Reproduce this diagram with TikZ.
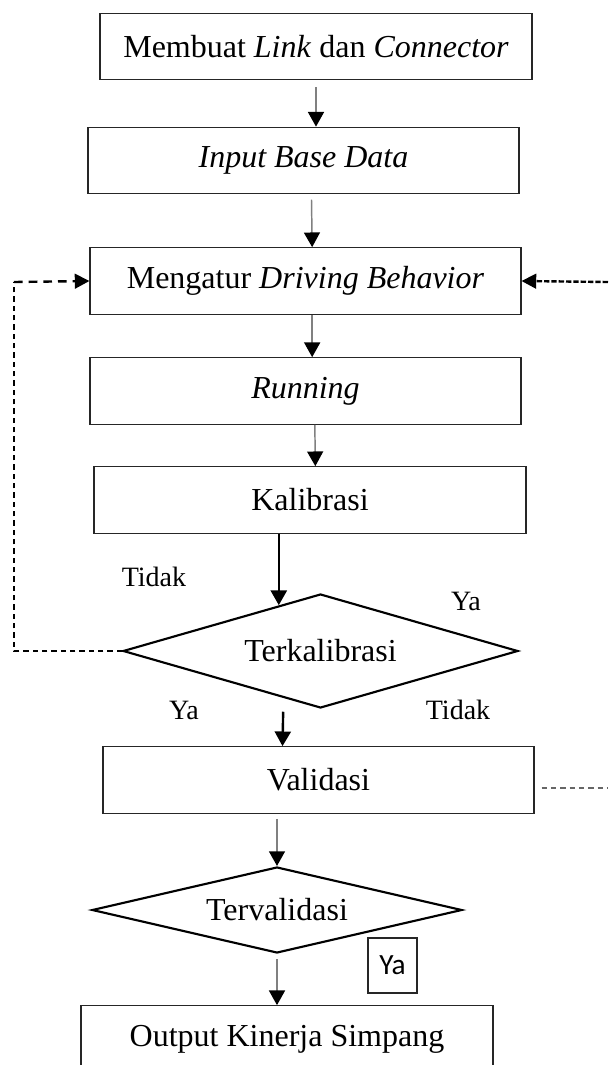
\documentclass[tikz,border=0pt]{standalone}
\usepackage{fontspec}
\setmainfont{Liberation Serif}
\newfontfamily\yafont{Carlito}
\usetikzlibrary{shapes.geometric,arrows.meta,calc}

\begin{document}
\begin{tikzpicture}[
    x=0.75pt, y=-0.75pt,
    every node/.style={font=\fontsize{24}{28}\selectfont, inner sep=0pt},
    prosesbox/.style={draw=black!85, line width=0.8pt, rectangle, minimum height=50pt},
    keputusan/.style={draw=black, line width=1.6pt, diamond, inner sep=0pt},
    keterangan/.style={font=\fontsize{21}{25}\selectfont},
    link/.style={draw=black!50, line width=1.1pt, -{Triangle[length=11pt,width=12pt,color=black]}},
    tebal/.style={draw=black, line width=1.8pt, -{Triangle[length=11pt,width=12pt]}},
    balik/.style={draw=black, line width=1.8pt, dash pattern=on 6.5pt off 4.5pt, -{Triangle[length=11pt,width=11pt]}},
    putus/.style={draw=black, line width=0.8pt, dash pattern=on 4pt off 3pt}]
    \clip (0,0) rectangle (608,1065);
    \node[prosesbox, minimum width=324pt] (mk) at (316,46.5) {Membuat \emph{Link} dan \emph{Connector}};
    \node[prosesbox, minimum width=323.25pt] (ibd) at (303.5,160.5) {\emph{Input Base Data}};
    \node[prosesbox, minimum width=323.25pt] (mdb) at (305.5,281) {Mengatur \emph{Driving Behavior}};
    \node[prosesbox, minimum width=323.25pt] (run) at (305.5,391) {\emph{Running}};
    \node[prosesbox, minimum width=324pt] (kal) at (310,500) {Kalibrasi};
    \node[keputusan, aspect=3.5, minimum width=296.25pt, minimum height=85.5pt] (terkal) at (320.5,651) {Terkalibrasi};
    \node[prosesbox, minimum width=323.25pt] (val) at (318.5,780) {Validasi};
    \node[keputusan, aspect=4.3, minimum width=277.5pt, minimum height=64.5pt] (terval) at (277,910) {Tervalidasi};
    \node[prosesbox, minimum width=309pt] (out) at (287,1039) {Output Kinerja Simpang};
    \node[draw=black!85, line width=0.8pt, minimum width=36.75pt, minimum height=41.25pt,
          font=\yafont\fontsize{22}{26}\selectfont] (ya) at (392.5,965.5) {Ya};

    \node[keterangan] (tidak1) at (154,577) {Tidak};
    \node[keterangan] (ya1) at (466,601) {Ya};
    \node[keterangan] (ya2) at (184,710) {Ya};
    \node[keterangan] (tidak2) at (458,710) {Tidak};

    \draw[link] ([yshift=-5pt]mk.south) -- (mk.south |- ibd.north);
    \draw[link] ([xshift=6pt,yshift=-4pt]ibd.south) -- ([xshift=5pt]mdb.north);
    \draw[link] ([xshift=5pt]mdb.south) -- ([xshift=5pt]run.north);
    \draw[link] ([xshift=7pt]run.south) -- ([xshift=4pt]kal.north);
    \coordinate (kt) at ($(terkal.north)!0.21!(terkal.west)$);
    \draw[tebal] (kt |- kal.south) -- (kt);
    \draw[tebal] ([xshift=-28pt,yshift=-2pt]terkal.south) -- ([xshift=-27pt]val.north);
    \draw[link] ($(val.south -| terval.north)+(0,5)$) -- (terval.north);
    \draw[link] ($(terval.south)+(0,5)$) -- (terval.south |- out.north);

    \coordinate (kiribawah) at (14,651);
    \coordinate (kiriatas) at (14,282);
    \draw[putus] (terkal.west) -- (kiribawah) -- (kiriatas);
    \draw[balik] (kiriatas) -- (mdb.west);
    \coordinate (kananbawah) at (608,788);
    \coordinate (kananatas) at (608,282);
    \draw[putus, draw=black!60] ($(val.east)+(7,8)$) -- (kananbawah);
    \draw[balik, dash pattern=on 4pt off 1.5pt] (kananatas) -- (mdb.east);
\end{tikzpicture}
\end{document}
